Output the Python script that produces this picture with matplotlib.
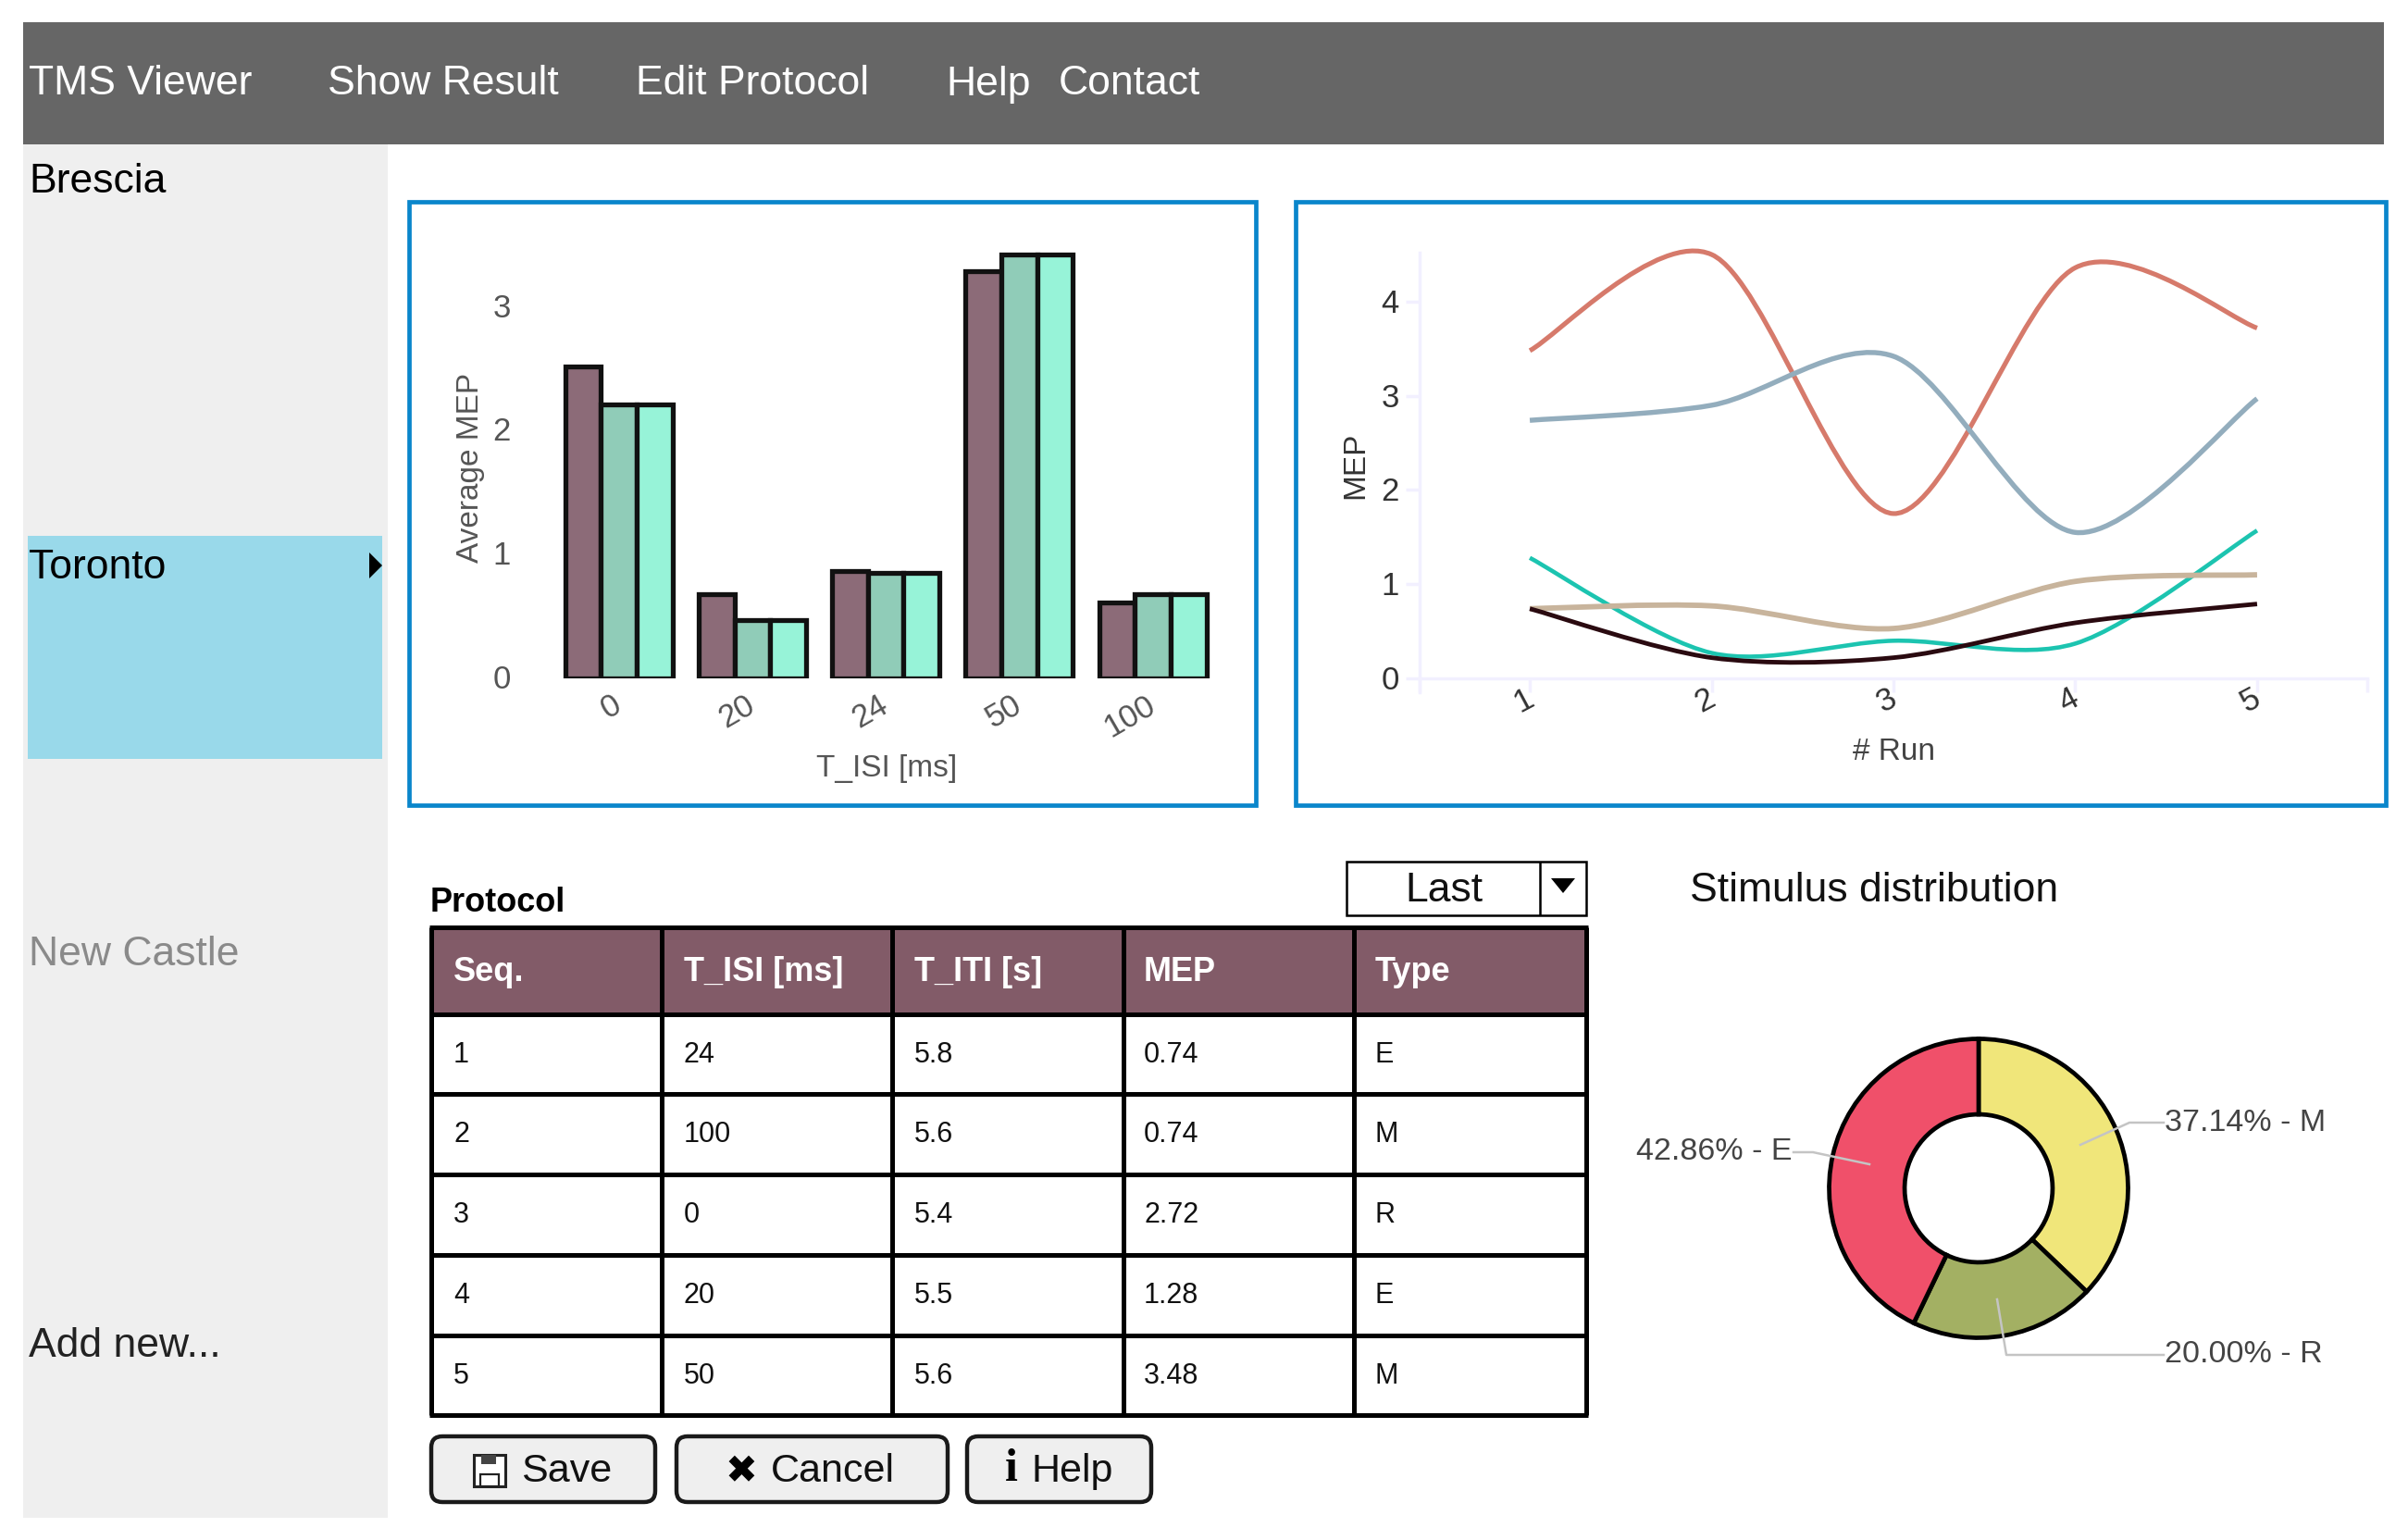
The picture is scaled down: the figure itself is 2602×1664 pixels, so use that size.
import matplotlib
matplotlib.use('Agg')
import matplotlib.pyplot as plt
from matplotlib.patches import Rectangle, FancyBboxPatch, Polygon, PathPatch
from matplotlib.path import Path
from matplotlib.transforms import ScaledTranslation

W, H = 2602, 1665

plt.rcParams['font.family'] = ['Liberation Sans', 'DejaVu Sans']

# bar chart
isi_labels = ['0', '20', '24', '50', '100']
bar_a = [2.52, 0.68, 0.87, 3.29, 0.61]
bar_b = [2.21, 0.47, 0.85, 3.42, 0.68]
bar_c = [2.21, 0.47, 0.85, 3.42, 0.68]
bar_colors = ['#8c6b78', '#90ccb8', '#97f3d8']

# line chart
runs = [1, 2, 3, 4, 5]
line_red = [3.48, 4.50, 1.75, 4.36, 3.72]
line_blue = [2.74, 2.90, 3.42, 1.55, 2.97]
line_teal = [1.28, 0.27, 0.40, 0.37, 1.57]
line_tan = [0.74, 0.77, 0.53, 1.03, 1.10]
line_black = [0.74, 0.22, 0.22, 0.59, 0.79]

# table
table_head = ['Seq.', 'T_ISI [ms]', 'T_ITI [s]', 'MEP', 'Type']
seq = ['1', '2', '3', '4', '5']
t_isi = ['24', '100', '0', '20', '50']
t_iti = ['5.8', '5.6', '5.4', '5.5', '5.6']
mep = ['0.74', '0.74', '2.72', '1.28', '3.48']
stim = ['E', 'M', 'R', 'E', 'M']

# donut
donut_vals = [37.14, 20.00, 42.86]
donut_colors = ['#f0e67a', '#a3b063', '#f0506a']

# menus
menu_items = [('TMS Viewer', 31), ('Show Result', 354), ('Edit Protocol', 687),
              ('Help', 1022), ('Contact', 1144)]
side_items = [('Brescia', 197, 'black'), ('Toronto', 614, 'black'),
              ('New Castle', 1032, '#8a8a8a'), ('Add new...', 1455, '#222222')]

fig = plt.figure(figsize=(W / 100, H / 100), dpi=100, facecolor='white')


def px_axes(l, t, r, b, **kw):
    return fig.add_axes([l / W, 1 - b / H, (r - l) / W, (b - t) / H], **kw)


def smooth_path(xs, ys, s=0.15):
    # bezier through the points, like the rounded lines of the original
    n = len(xs)
    verts = [(xs[0], ys[0])]
    codes = [Path.MOVETO]
    for i in range(n - 1):
        p0 = max(i - 1, 0)
        p3 = min(i + 2, n - 1)
        verts.append((xs[i] + (xs[i + 1] - xs[p0]) * s, ys[i] + (ys[i + 1] - ys[p0]) * s))
        verts.append((xs[i + 1] - (xs[p3] - xs[i]) * s, ys[i + 1] - (ys[p3] - ys[i]) * s))
        verts.append((xs[i + 1], ys[i + 1]))
        codes += [Path.CURVE4] * 3
    return Path(verts, codes)


def nudge(labels, dx, dy):
    # move tick labels by dx, dy pixels (dy up)
    off = ScaledTranslation(dx / 100, dy / 100, fig.dpi_scale_trans)
    for lab in labels:
        lab.set_transform(lab.get_transform() + off)


# page background layer
bg = fig.add_axes([0, 0, 1, 1], zorder=-1)
bg.set_xlim(0, W)
bg.set_ylim(H, 0)
bg.axis('off')

# text and leader layer
top = fig.add_axes([0, 0, 1, 1], zorder=5)
top.set_xlim(0, W)
top.set_ylim(H, 0)
top.axis('off')

bg.add_patch(Rectangle((25, 25), 2551, 132, fc='#666666', ec='none'))
bg.add_patch(Rectangle((25, 157), 394, 1484, fc='#efefef', ec='none'))
bg.add_patch(Rectangle((30, 580), 383, 241, fc='#99d9ea', ec='none'))
for (l, r) in [(442, 1357), (1400, 2578)]:
    bg.add_patch(Rectangle((l, 219), r - l, 652, fc='white', ec='#0a86cb', lw=3.4))

for name, x in menu_items:
    top.text(x, 91, name, color='white', fontsize=32, va='center', ha='left')
for name, y, c in side_items:
    top.text(31, y, name, color=c, fontsize=32, va='center', ha='left')
top.add_patch(Polygon([(399, 598), (399, 626), (413, 612)], fc='black', ec='none'))

# bars
ax1 = px_axes(596.4, 265.7, 1317.9, 734)
ax1.patch.set_alpha(0)
bw = 0.268
for i, (vals, c) in enumerate(zip([bar_a, bar_b, bar_c], bar_colors)):
    ax1.bar([k + (i - 1) * bw for k in range(5)], vals, bw, color=c, ec='#111111', lw=3.8)
ax1.set_xlim(-0.5, 4.5)
ax1.set_ylim(0, 3.5)
for s in ax1.spines.values():
    s.set_visible(False)
ax1.set_xticks(range(5))
ax1.set_xticklabels(isi_labels, rotation=30, ha='right', rotation_mode='anchor', va='top')
ax1.set_yticks([0, 1, 2, 3])
ax1.tick_params(length=0, labelsize=25, labelcolor='#555555')
ax1.tick_params(axis='y', pad=32)
ax1.tick_params(axis='x', pad=8)
nudge(ax1.get_yticklabels(), 0, 3)
nudge(ax1.get_xticklabels(), -8, 0)
top.text(958, 831, 'T_ISI [ms]', fontsize=24, color='#555555', ha='center', va='center')
top.text(508, 505, 'Average MEP', fontsize=24, color='#555555', ha='center', va='center', rotation=90)

# lines
ax2 = px_axes(1534, 274, 2558, 749)
ax2.patch.set_alpha(0)
ax2.set_xlim(0.394, 5.606)
ax2.set_ylim(-0.147, 4.52)
axis_c = '#f2f0ff'
for name in ['top', 'right']:
    ax2.spines[name].set_visible(False)
ax2.spines['bottom'].set_position(('data', 0))
for name in ['bottom', 'left']:
    ax2.spines[name].set_color(axis_c)
    ax2.spines[name].set_linewidth(2.5)
ax2.set_xticks(runs)
ax2.set_xticks([0.394, 5.606], minor=True)
ax2.set_yticks([0, 1, 2, 3, 4])
ax2.tick_params(which='both', color=axis_c, width=2.5, length=11)
ax2.tick_params(axis='y', labelsize=25, labelcolor='#333333', pad=5)
ax2.tick_params(axis='x', labelsize=25, labelcolor='#333333', pad=-8, labelrotation=28)
nudge(ax2.get_yticklabels(), 0, 2)
nudge(ax2.get_xticklabels(), -7, 0)
for series, c, lw in [(line_red, '#d67a6b', 3.7), (line_blue, '#93adbd', 3.9),
                      (line_teal, '#1cc4b0', 3.3), (line_tan, '#c8b49c', 4.2),
                      (line_black, '#2a0a10', 3.5)]:
    ax2.add_patch(PathPatch(smooth_path(runs, series), fill=False, ec=c, lw=lw,
                            capstyle='butt', clip_on=False))
top.text(2046, 813, '# Run', fontsize=24, color='#444444', ha='center', va='center')
top.text(1465, 503, 'MEP', fontsize=24, color='#333333', ha='center', va='center', rotation=90)

# protocol table
col_x = [466, 715, 964, 1214, 1463, 1714]
row_y = [1003, 1097, 1183, 1270, 1357, 1444, 1530]
bg.add_patch(Rectangle((col_x[0], row_y[0]), col_x[-1] - col_x[0], row_y[1] - row_y[0], fc='#825b68', ec='none'))
top.vlines(col_x, row_y[0], row_y[-1], color='black', lw=3.6)
top.hlines(row_y, col_x[0] - 2, col_x[-1] + 2, color='black', lw=3.6)
text_x = [490, 739, 988, 1236, 1486]
for x, name in zip(text_x, table_head):
    top.text(x, (row_y[0] + row_y[1]) / 2 + 1, name, color='white', fontsize=26, fontweight='bold', ha='left', va='center')
for j, col in enumerate([seq, t_isi, t_iti, mep, stim]):
    for i, val in enumerate(col):
        top.text(text_x[j], (row_y[i + 1] + row_y[i + 2]) / 2, val, color='#111111', fontsize=22, ha='left', va='center')
top.text(465, 976, 'Protocol', fontsize=26, fontweight='bold', color='black', ha='left', va='center')

# dropdown
bg.add_patch(Rectangle((1455, 932), 259, 58, fc='white', ec='black', lw=1.8))
top.vlines([1664], 932, 990, color='black', lw=1.8)
top.text(1560, 963, 'Last', fontsize=32, color='#111111', ha='center', va='center')
top.add_patch(Polygon([(1676, 950), (1702, 950), (1689, 966)], fc='black', ec='none'))

# buttons
for l, r in [(466, 708), (731, 1024), (1045, 1244)]:
    bg.add_patch(FancyBboxPatch((l + 7, 1560), r - l - 14, 57, boxstyle='round,pad=7,rounding_size=12',
                                fc='#efefef', ec='#1a1a1a', lw=3.2))
top.text(563, 1590, 'Save', fontsize=31, color='#111111', ha='left', va='center')
top.text(833, 1590, 'Cancel', fontsize=31, color='#111111', ha='left', va='center')
top.text(1115, 1590, 'Help', fontsize=31, color='#111111', ha='left', va='center')
top.add_patch(Rectangle((512, 1573), 34, 34, fc='white', ec='#222222', lw=2.2))
top.add_patch(Rectangle((520, 1573), 16, 10, fc='#444444', ec='none'))
top.add_patch(Rectangle((519, 1594), 20, 13, fc='white', ec='#222222', lw=1.6))
top.text(801, 1590, '\u2716', family='DejaVu Sans', fontsize=30, color='black', ha='center', va='center')
top.text(1093, 1588, 'i', family='Liberation Serif', fontweight='bold', fontsize=36, color='black', ha='center', va='center')

# donut
top.text(1826, 963, 'Stimulus distribution', fontsize=32, color='#111111', ha='left', va='center')
cx, cy, rad = 2138, 1285, 161.5
ax3 = px_axes(cx - rad * 1.05, cy - rad * 1.05, cx + rad * 1.05, cy + rad * 1.05)
ax3.patch.set_alpha(0)
ax3.pie(donut_vals, colors=donut_colors, startangle=90, counterclock=False, radius=1,
        wedgeprops=dict(width=0.505, edgecolor='black', linewidth=3.4))
ax3.set_xlim(-1.05, 1.05)
ax3.set_ylim(-1.05, 1.05)

leader = dict(color='#c4c4c4', lw=1.8)
top.plot([2248, 2301, 2338], [1238, 1214, 1214], **leader)
top.plot([2020, 1959, 1938], [1259, 1246, 1246], **leader)
top.plot([2158, 2168, 2338], [1405, 1465, 1465], **leader)
top.text(2339, 1214, '37.14% - M', fontsize=24.5, color='#444444', ha='left', va='center')
top.text(1937, 1245, '42.86% - E', fontsize=24.5, color='#444444', ha='right', va='center')
top.text(2339, 1464, '20.00% - R', fontsize=24.5, color='#444444', ha='left', va='center')

fig.savefig('out.png', dpi=100)
